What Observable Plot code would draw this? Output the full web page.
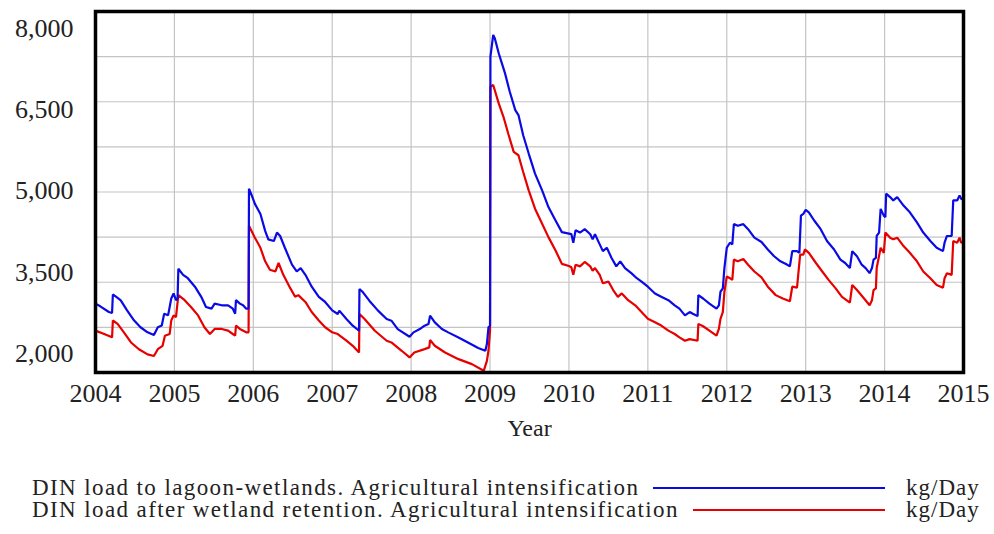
<!DOCTYPE html>
<html>
<head>
<meta charset="utf-8">
<script src="https://cdn.jsdelivr.net/npm/d3@7"></script>
<script src="https://cdn.jsdelivr.net/npm/@observablehq/plot@0.6"></script>
<style>
  html, body { margin: 0; padding: 0; background: #fff; }
  #wrap { position: relative; width: 994px; height: 534px; font-family: "Liberation Serif", "Times New Roman", serif; color: #222; }
  #legend { position: absolute; left: 0; top: 445px; width: 994px; height: 89px; }
  .row { position: absolute; left: 32px; width: 853px; height: 21px; display: flex; align-items: center; font-size: 23px; line-height: 21px; white-space: nowrap; }
  .row .txt { letter-spacing: 1.4px; }
  .row .sw { flex: 1; height: 2px; margin-left: 14px; }
  .unit { position: absolute; left: 906px; font-size: 23px; line-height: 21px; letter-spacing: 1px; }
</style>
</head>
<body>
<div id="wrap">
  <div id="chart"></div>
  <div id="legend"></div>
</div>
<script>
// ---- data (decimal year, kg/Day) ----
const seriesNames = [
  "DIN load to lagoon-wetlands. Agricultural intensification",
  "DIN load after wetland retention. Agricultural intensification"
];
const unitLabel = "kg/Day";
const seriesColors = ["#0a0ae6", "#e60000"];
const xTicks = [2004, 2005, 2006, 2007, 2008, 2009, 2010, 2011, 2012, 2013, 2014, 2015];
const yTicks = [8000, 6500, 5000, 3500, 2000];
const yGrid = [2750, 3500, 4250, 5000, 5750, 6500, 7250];

const loadToLagoon = [
  [2004.00,3145],[2004.06,3100],[2004.17,3005],[2004.21,2988],[2004.22,3297],[2004.28,3240],[2004.32,3200],
  [2004.40,3033],[2004.49,2864],[2004.57,2752],[2004.66,2668],[2004.74,2623],[2004.79,2752],[2004.84,2780],
  [2004.87,2977],[2004.92,2950],[2004.96,3230],[2004.99,3314],[2005.02,3202],[2005.04,3230],[2005.05,3724],
  [2005.11,3623],[2005.17,3567],[2005.26,3426],[2005.34,3258],[2005.40,3089],[2005.47,3061],[2005.51,3145],
  [2005.60,3117],[2005.68,3117],[2005.74,3061],[2005.77,2977],[2005.78,3202],[2005.83,3145],[2005.87,3117],
  [2005.91,3061],[2005.94,3061],[2005.945,5056],[2005.98,4944],[2006.02,4803],[2006.09,4635],[2006.15,4354],
  [2006.19,4213],[2006.26,4185],[2006.30,4326],[2006.34,4269],[2006.40,4073],[2006.49,3792],[2006.55,3679],
  [2006.60,3736],[2006.66,3623],[2006.74,3426],[2006.83,3258],[2006.91,3173],[2007.00,3033],[2007.07,2972],
  [2007.09,3028],[2007.18,2889],[2007.26,2778],[2007.34,2694],[2007.345,3389],[2007.39,3333],[2007.47,3194],
  [2007.58,3028],[2007.69,2889],[2007.75,2861],[2007.83,2722],[2007.98,2594],[2008.03,2667],[2008.11,2722],
  [2008.17,2778],[2008.22,2806],[2008.24,2944],[2008.30,2833],[2008.39,2722],[2008.47,2667],[2008.60,2583],
  [2008.72,2500],[2008.85,2406],[2008.94,2361],[2008.96,2472],[2008.98,2750],[2009.00,2778],[2009.005,7250],
  [2009.04,7611],[2009.06,7556],[2009.11,7306],[2009.15,7139],[2009.19,6972],[2009.25,6667],[2009.32,6361],
  [2009.36,6278],[2009.42,5944],[2009.49,5639],[2009.57,5306],[2009.66,5028],[2009.74,4750],[2009.83,4528],
  [2009.91,4333],[2010.00,4309],[2010.03,4300],[2010.055,4157],[2010.084,4365],[2010.14,4326],[2010.20,4382],
  [2010.27,4298],[2010.30,4213],[2010.33,4298],[2010.39,4129],[2010.43,4017],[2010.48,4073],[2010.54,3904],
  [2010.60,3764],[2010.65,3848],[2010.71,3736],[2010.79,3651],[2010.86,3567],[2010.92,3511],[2011.00,3426],
  [2011.09,3314],[2011.17,3258],[2011.26,3202],[2011.34,3117],[2011.40,3061],[2011.47,2949],[2011.53,3005],
  [2011.57,2977],[2011.63,2937],[2011.64,3286],[2011.70,3230],[2011.78,3145],[2011.87,3061],[2011.90,3117],
  [2011.92,3342],[2011.95,3398],[2011.97,3736],[2012.00,4073],[2012.04,4157],[2012.07,4129],[2012.09,4466],
  [2012.14,4438],[2012.21,4466],[2012.27,4382],[2012.35,4241],[2012.44,4170],[2012.52,4045],[2012.60,3932],
  [2012.68,3848],[2012.75,3803],[2012.80,3764],[2012.83,4017],[2012.89,4017],[2012.92,3989],[2012.94,4607],
  [2012.97,4635],[2013.00,4702],[2013.04,4663],[2013.11,4522],[2013.19,4382],[2013.27,4185],[2013.36,4045],
  [2013.44,3876],[2013.50,3820],[2013.56,3736],[2013.59,4017],[2013.65,3932],[2013.71,3792],[2013.76,3736],
  [2013.81,3651],[2013.84,3736],[2013.86,3876],[2013.89,3904],[2013.90,4269],[2013.93,4326],[2013.95,4719],
  [2013.99,4607],[2014.01,4579],[2014.02,4972],[2014.07,4916],[2014.11,4860],[2014.16,4916],[2014.24,4775],
  [2014.32,4663],[2014.41,4494],[2014.49,4326],[2014.58,4185],[2014.66,4073],[2014.74,4017],[2014.76,4157],
  [2014.79,4269],[2014.85,4269],[2014.87,4860],[2014.92,4860],[2014.95,4944],[2014.97,4888],[2015.00,4870]
];

const loadAfterRetention = [
  [2004.00,2696],[2004.11,2640],[2004.21,2584],[2004.22,2864],[2004.28,2808],[2004.36,2668],[2004.45,2499],
  [2004.55,2387],[2004.66,2302],[2004.74,2274],[2004.79,2387],[2004.85,2443],[2004.88,2612],[2004.94,2640],
  [2004.96,2864],[2004.99,2949],[2005.02,2920],[2005.05,3286],[2005.13,3202],[2005.21,3089],[2005.30,2949],
  [2005.38,2752],[2005.45,2640],[2005.51,2724],[2005.60,2724],[2005.68,2696],[2005.74,2640],[2005.77,2612],
  [2005.78,2780],[2005.83,2724],[2005.91,2668],[2005.94,2668],[2005.945,4438],[2006.02,4241],[2006.09,4073],
  [2006.15,3848],[2006.21,3707],[2006.28,3679],[2006.32,3820],[2006.38,3623],[2006.47,3398],[2006.53,3258],
  [2006.57,3286],[2006.66,3173],[2006.74,3005],[2006.83,2864],[2006.91,2752],[2007.00,2668],[2007.07,2639],
  [2007.18,2528],[2007.26,2444],[2007.34,2333],[2007.345,2972],[2007.41,2889],[2007.54,2694],[2007.69,2528],
  [2007.75,2500],[2007.88,2361],[2007.98,2250],[2008.04,2333],[2008.17,2389],[2008.23,2417],[2008.24,2539],
  [2008.30,2444],[2008.43,2333],[2008.60,2222],[2008.77,2139],[2008.92,2028],[2008.96,2194],[2008.98,2361],
  [2009.00,2694],[2009.005,6750],[2009.04,6778],[2009.11,6472],[2009.17,6250],[2009.23,5972],[2009.30,5667],
  [2009.36,5611],[2009.42,5333],[2009.49,5028],[2009.57,4722],[2009.66,4472],[2009.74,4250],[2009.83,4028],
  [2009.91,3806],[2010.00,3770],[2010.03,3750],[2010.055,3623],[2010.084,3792],[2010.14,3764],[2010.20,3837],
  [2010.27,3764],[2010.30,3691],[2010.33,3736],[2010.39,3623],[2010.43,3483],[2010.50,3511],[2010.56,3370],
  [2010.62,3258],[2010.67,3314],[2010.75,3202],[2010.84,3117],[2010.92,3005],[2011.00,2893],[2011.09,2836],
  [2011.17,2780],[2011.26,2696],[2011.34,2640],[2011.40,2584],[2011.47,2527],[2011.53,2555],[2011.63,2527],
  [2011.64,2808],[2011.70,2769],[2011.78,2696],[2011.87,2612],[2011.90,2724],[2011.92,2892],[2011.95,3005],
  [2011.97,3342],[2012.00,3595],[2012.04,3567],[2012.07,3539],[2012.09,3876],[2012.14,3848],[2012.21,3887],
  [2012.27,3792],[2012.35,3679],[2012.44,3580],[2012.52,3426],[2012.62,3286],[2012.71,3230],[2012.80,3185],
  [2012.83,3426],[2012.89,3410],[2012.93,3960],[2012.97,3960],[2012.99,4045],[2013.04,3989],[2013.13,3820],
  [2013.21,3679],[2013.29,3539],[2013.38,3398],[2013.46,3258],[2013.56,3162],[2013.59,3454],[2013.65,3370],
  [2013.74,3230],[2013.81,3117],[2013.84,3202],[2013.86,3370],[2013.89,3398],[2013.90,3736],[2013.95,4073],
  [2013.99,3989],[2014.01,4326],[2014.07,4241],[2014.11,4213],[2014.16,4241],[2014.24,4101],[2014.32,3989],
  [2014.41,3848],[2014.49,3679],[2014.58,3567],[2014.66,3454],[2014.74,3410],[2014.76,3567],[2014.79,3651],
  [2014.85,3623],[2014.87,4185],[2014.92,4157],[2014.95,4241],[2014.97,4157],[2015.00,4170]
];

// ---- chart ----
const font = "Liberation Serif";
const yLabelShift = yTicks.map((d, i) => 17 - 9 * i); // labels drawn slightly inward, as in the original

const chart = Plot.plot({
  width: 994,
  height: 445,
  marginLeft: 95,
  marginRight: 31,
  marginTop: 11,
  marginBottom: 73,
  style: { fontFamily: font, fontSize: "26px", color: "#222", background: "#fff" },
  x: { domain: [2004, 2015] },
  y: { domain: [2000, 8000] },
  marks: [
    Plot.ruleX(xTicks, { x: d => d, stroke: "#c4c4c4", strokeWidth: 1.2, strokeOpacity: 1 }),
    Plot.ruleY(yGrid, { y: d => d, stroke: "#c4c4c4", strokeWidth: 1.2, strokeOpacity: 1 }),
    Plot.line(loadAfterRetention, { x: d => d[0], y: d => d[1], stroke: seriesColors[1], strokeWidth: 2.2, strokeLinejoin: "miter" }),
    Plot.line(loadToLagoon, { x: d => d[0], y: d => d[1], stroke: seriesColors[0], strokeWidth: 2.2, strokeLinejoin: "miter" }),
    Plot.frame({ stroke: "#000", strokeWidth: 3.5 }),
    Plot.axisX(xTicks, { tickSize: 0, tickPadding: 11, tickFormat: d => String(d), label: null, fontSize: 26, fill: "#222" }),
    ...yTicks.map((t, i) => Plot.axisY([t], { tickSize: 0, tickPadding: 22, tickFormat: d3.format(","), label: null, fontSize: 26, fill: "#222", dy: yLabelShift[i] })),
    Plot.text(["Year"], { frameAnchor: "bottom", dy: 56, text: d => d, fontSize: 24, fill: "#222", lineAnchor: "middle" })
  ]
});
document.getElementById("chart").appendChild(chart);

// ---- legend ----
const legend = document.getElementById("legend");
const rowTops = [32, 54];
seriesNames.forEach((name, i) => {
  const row = document.createElement("div");
  row.className = "row";
  row.style.top = rowTops[i] + "px";
  const t = document.createElement("span");
  t.className = "txt";
  t.textContent = name;
  const sw = document.createElement("span");
  sw.className = "sw";
  sw.style.background = seriesColors[i];
  row.appendChild(t);
  row.appendChild(sw);
  legend.appendChild(row);
  const u = document.createElement("span");
  u.className = "unit";
  u.style.top = rowTops[i] + "px";
  u.textContent = unitLabel;
  legend.appendChild(u);
});
</script>
</body>
</html>
